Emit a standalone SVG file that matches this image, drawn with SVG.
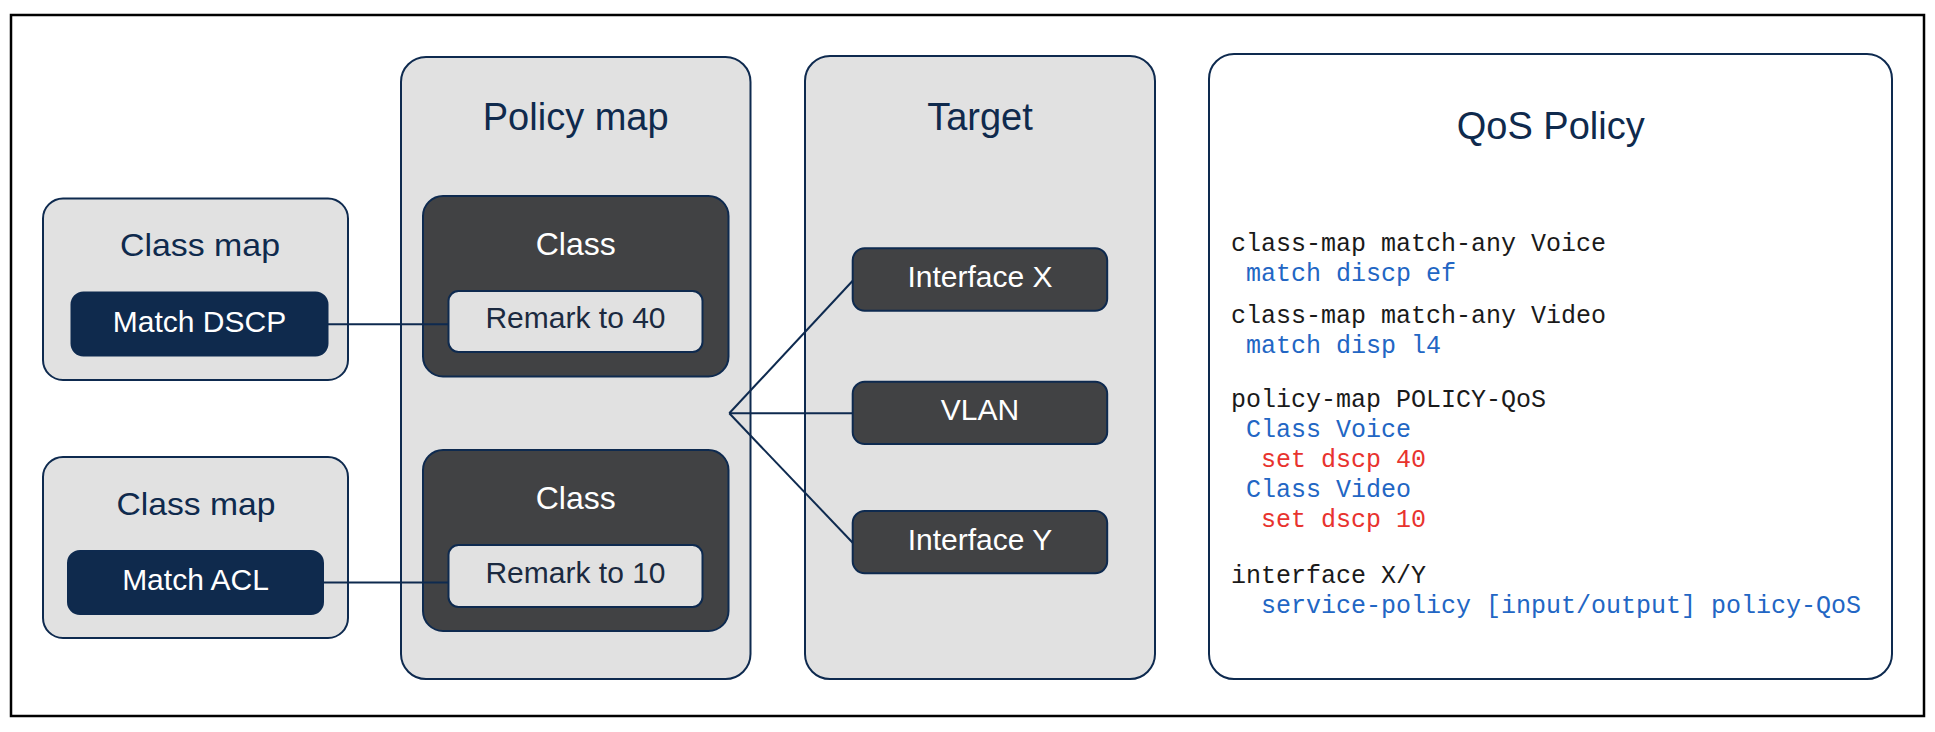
<svg xmlns="http://www.w3.org/2000/svg" width="1935" height="732" viewBox="0 0 1935 732">
<style>
.panel{fill:#e1e1e1;stroke:#0e2a4f;stroke-width:2}
.white{fill:#ffffff;stroke:#0e2a4f;stroke-width:2}
.dark{fill:#414244;stroke:#0e2a4f;stroke-width:2}
.navy{fill:#0f2a4d;stroke:#0e2a4f;stroke-width:2}
.inner{fill:#e1e1e1;stroke:#0e2a4f;stroke-width:2}
.t{font-family:"Liberation Sans",Arial,sans-serif;text-anchor:middle}
.title{font-size:38px;fill:#0f2a4d}
.sub{font-size:32px;fill:#0f2a4d}
.lbl{font-size:30px;fill:#ffffff}
.lbld{font-size:30px;fill:#1b2a40}
.code{font-family:"Liberation Mono","Courier New",monospace;font-size:25px}
.k{fill:#1a1a1a}
.b{fill:#2266c4}
.r{fill:#e8332e}
.conn line{stroke:#0e2a4f;stroke-width:2;fill:none}
</style>
<rect x="0" y="0" width="1935" height="732" fill="#ffffff"/>
<rect id="frame" x="11" y="15" width="1913" height="701" fill="none" stroke="#000000" stroke-width="2.5"/>

<g id="classmap1">
<rect class="panel" x="43" y="198.5" width="305" height="181.5" rx="20"/>
<text class="t sub" x="200" y="256" textLength="160" lengthAdjust="spacingAndGlyphs">Class map</text>
</g>
<g id="matchdscp">
<rect class="navy" x="71.5" y="292.5" width="256" height="63" rx="12"/>
<text class="t lbl" x="199.5" y="331.5">Match DSCP</text>
</g>
<g id="classmap2">
<rect class="panel" x="43" y="457" width="305" height="181" rx="20"/>
<text class="t sub" x="196" y="515" textLength="159" lengthAdjust="spacingAndGlyphs">Class map</text>
</g>
<g id="matchacl">
<rect class="navy" x="68" y="551" width="255" height="63" rx="12"/>
<text class="t lbl" x="195.5" y="589.5">Match ACL</text>
</g>

<g id="policymap">
<rect class="panel" x="401" y="57" width="349.5" height="622" rx="25"/>
<text class="t title" x="575.7" y="130">Policy map</text>
</g>
<g id="class1">
<rect class="dark" x="423" y="196" width="305.5" height="180.5" rx="20"/>
<text class="t sub" style="fill:#ffffff" x="575.7" y="255">Class</text>
</g>
<g id="remark40">
<rect class="inner" x="448.5" y="291" width="254" height="61" rx="10"/>
<text class="t lbld" x="575.5" y="328.3">Remark to 40</text>
</g>
<g id="class2">
<rect class="dark" x="423" y="450" width="305.5" height="181" rx="20"/>
<text class="t sub" style="fill:#ffffff" x="575.7" y="509">Class</text>
</g>
<g id="remark10">
<rect class="inner" x="448.5" y="545" width="254" height="62" rx="10"/>
<text class="t lbld" x="575.5" y="582.5">Remark to 10</text>
</g>

<g id="target">
<rect class="panel" x="805" y="56" width="350" height="623" rx="25"/>
<text class="t title" x="980" y="129.5">Target</text>
</g>
<g id="interfacex">
<rect class="dark" x="852.7" y="248.3" width="254.5" height="62.4" rx="12"/>
<text class="t lbl" x="980" y="287">Interface X</text>
</g>
<g id="vlan">
<rect class="dark" x="852.7" y="381.7" width="254.5" height="62.3" rx="12"/>
<text class="t lbl" x="980" y="419.5">VLAN</text>
</g>
<g id="interfacey">
<rect class="dark" x="852.7" y="511" width="254.5" height="62.3" rx="12"/>
<text class="t lbl" x="980" y="549.5">Interface Y</text>
</g>

<g id="qospolicy">
<rect class="white" x="1209" y="54" width="683" height="625" rx="25"/>
<text class="t title" x="1550.7" y="139">QoS Policy</text>
<g class="code">
<text class="k" x="1231" y="250.7">class-map match-any Voice</text>
<text class="b" x="1246" y="280.7">match discp ef</text>
<text class="k" x="1231" y="322.7">class-map match-any Video</text>
<text class="b" x="1246" y="353.3">match disp l4</text>
<text class="k" x="1231" y="407.3">policy-map POLICY-QoS</text>
<text class="b" x="1246" y="437.3">Class Voice</text>
<text class="r" x="1261" y="467.3">set dscp 40</text>
<text class="b" x="1246" y="496.7">Class Video</text>
<text class="r" x="1261" y="526.7">set dscp 10</text>
<text class="k" x="1231" y="582.6">interface X/Y</text>
<text class="b" x="1261" y="612.5">service-policy [input/output] policy-QoS</text>
</g>
</g>

<g id="connectors" class="conn">
<line x1="327.5" y1="324.2" x2="448.5" y2="324.2"/>
<line x1="323" y1="582.5" x2="448.5" y2="582.5"/>
<line x1="729.3" y1="413.3" x2="852.7" y2="280.7"/>
<line x1="729.3" y1="413.3" x2="852.7" y2="413.3"/>
<line x1="729.3" y1="413.3" x2="852.7" y2="542.7"/>
</g>
</svg>
